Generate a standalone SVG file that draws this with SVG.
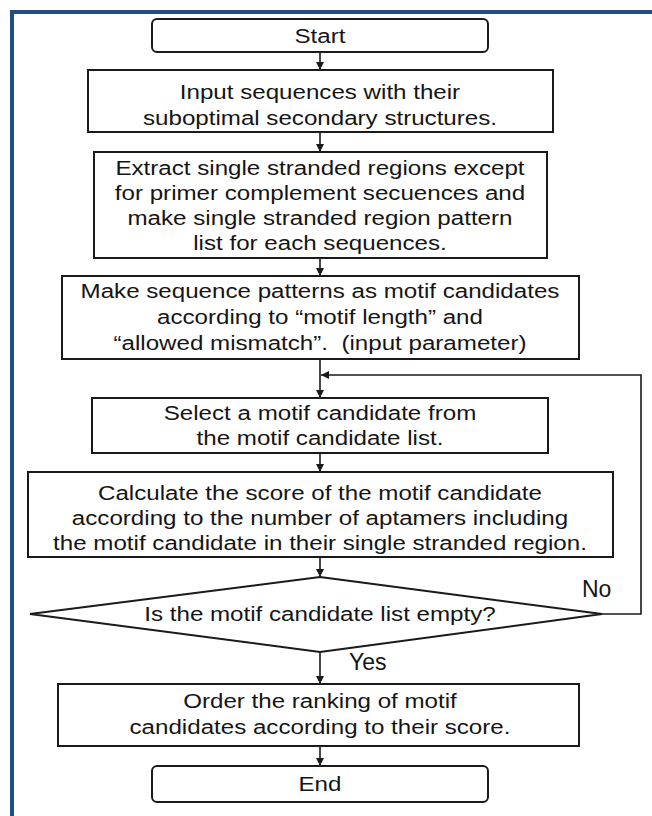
<svg xmlns="http://www.w3.org/2000/svg" width="652" height="816" viewBox="0 0 652 816">
<defs>
<marker id="ah" viewBox="0 0 10 10" refX="10" refY="5" markerWidth="5" markerHeight="5" orient="auto" markerUnits="strokeWidth">
<path d="M0,0 L10,5 L0,10 z" fill="#1a1a1a"/>
</marker>
<style>
.box{fill:#fff;stroke:#1a1a1a;stroke-width:2}
.t{font-family:"Liberation Sans",Arial,sans-serif;font-size:21px;fill:#151515;text-anchor:middle}
.lbl{font-family:"Liberation Sans",Arial,sans-serif;font-size:23px;fill:#151515}
.c{fill:none;stroke:#1a1a1a;stroke-width:1.6}
.frame{fill:#1f4e82}
</style>
</defs>
<rect width="652" height="816" fill="#fff"/>
<g id="frame">
<rect class="frame" x="10" y="10" width="642" height="4"/>
<rect class="frame" x="10" y="10" width="4" height="806"/>
</g>
<g id="connectors">
<line class="c" x1="320" y1="52" x2="320" y2="70" marker-end="url(#ah)"/>
<line class="c" x1="320" y1="132" x2="320" y2="152" marker-end="url(#ah)"/>
<line class="c" x1="320" y1="258" x2="320" y2="276" marker-end="url(#ah)"/>
<line class="c" x1="320" y1="359" x2="320" y2="398" marker-end="url(#ah)"/>
<line class="c" x1="320" y1="453" x2="320" y2="472" marker-end="url(#ah)"/>
<line class="c" x1="320" y1="557" x2="320" y2="577" marker-end="url(#ah)"/>
<line class="c" x1="320" y1="652" x2="320" y2="684" marker-end="url(#ah)"/>
<line class="c" x1="320" y1="746" x2="320" y2="766" marker-end="url(#ah)"/>
<polyline class="c" points="602,614 641,614 641,375 321,375" marker-end="url(#ah)"/>
<text class="lbl" x="582" y="597">No</text>
<text class="lbl" x="349" y="670">Yes</text>
</g>
<g id="start">
<rect class="box" x="152" y="19" width="336" height="33" rx="5"/>
<g transform="matrix(1.15,0,0,1,-48,0)"><text class="t" x="320" y="43">Start</text></g>
</g>
<g id="input">
<rect class="box" x="88" y="70" width="465" height="62"/>
<g transform="matrix(1.15,0,0,1,-48,0)">
<text class="t" x="320" y="99">Input sequences with their</text>
<text class="t" x="320" y="125">suboptimal secondary structures.</text>
</g>
</g>
<g id="extract">
<rect class="box" x="94" y="152" width="453" height="106"/>
<g transform="matrix(1.15,0,0,1,-48,0)">
<text class="t" x="320" y="175">Extract single stranded regions except</text>
<text class="t" x="320" y="200">for primer complement secuences and</text>
<text class="t" x="320" y="225">make single stranded region pattern</text>
<text class="t" x="320" y="250">list for each sequences.</text>
</g>
</g>
<g id="make">
<rect class="box" x="62" y="276" width="517" height="83"/>
<g transform="matrix(1.15,0,0,1,-48,0)">
<text class="t" x="320" y="298">Make sequence patterns as motif candidates</text>
<text class="t" x="320" y="324">according to “motif length” and</text>
<text class="t" x="320" y="350">“allowed mismatch”.&#160; (input parameter)</text>
</g>
</g>
<g id="select">
<rect class="box" x="92" y="398" width="456" height="55"/>
<g transform="matrix(1.15,0,0,1,-48,0)">
<text class="t" x="320" y="420">Select a motif candidate from</text>
<text class="t" x="320" y="445">the motif candidate list.</text>
</g>
</g>
<g id="calculate">
<rect class="box" x="28" y="472" width="585" height="85"/>
<g transform="matrix(1.15,0,0,1,-48,0)">
<text class="t" x="320" y="500">Calculate the score of the motif candidate</text>
<text class="t" x="320" y="525">according to the number of aptamers including</text>
<text class="t" x="320" y="550">the motif candidate in their single stranded region.</text>
</g>
</g>
<g id="decision">
<polygon class="box" points="320,577 602,614 320,652 30,614"/>
<g transform="matrix(1.15,0,0,1,-48,0)"><text class="t" x="320" y="621">Is the motif candidate list empty?</text></g>
</g>
<g id="order">
<rect class="box" x="58" y="684" width="521" height="62"/>
<g transform="matrix(1.15,0,0,1,-48,0)">
<text class="t" x="320" y="708">Order the ranking of motif</text>
<text class="t" x="320" y="734">candidates according to their score.</text>
</g>
</g>
<g id="end">
<rect class="box" x="152" y="766" width="336" height="36" rx="5"/>
<g transform="matrix(1.15,0,0,1,-48,0)"><text class="t" x="320" y="791">End</text></g>
</g>
</svg>
